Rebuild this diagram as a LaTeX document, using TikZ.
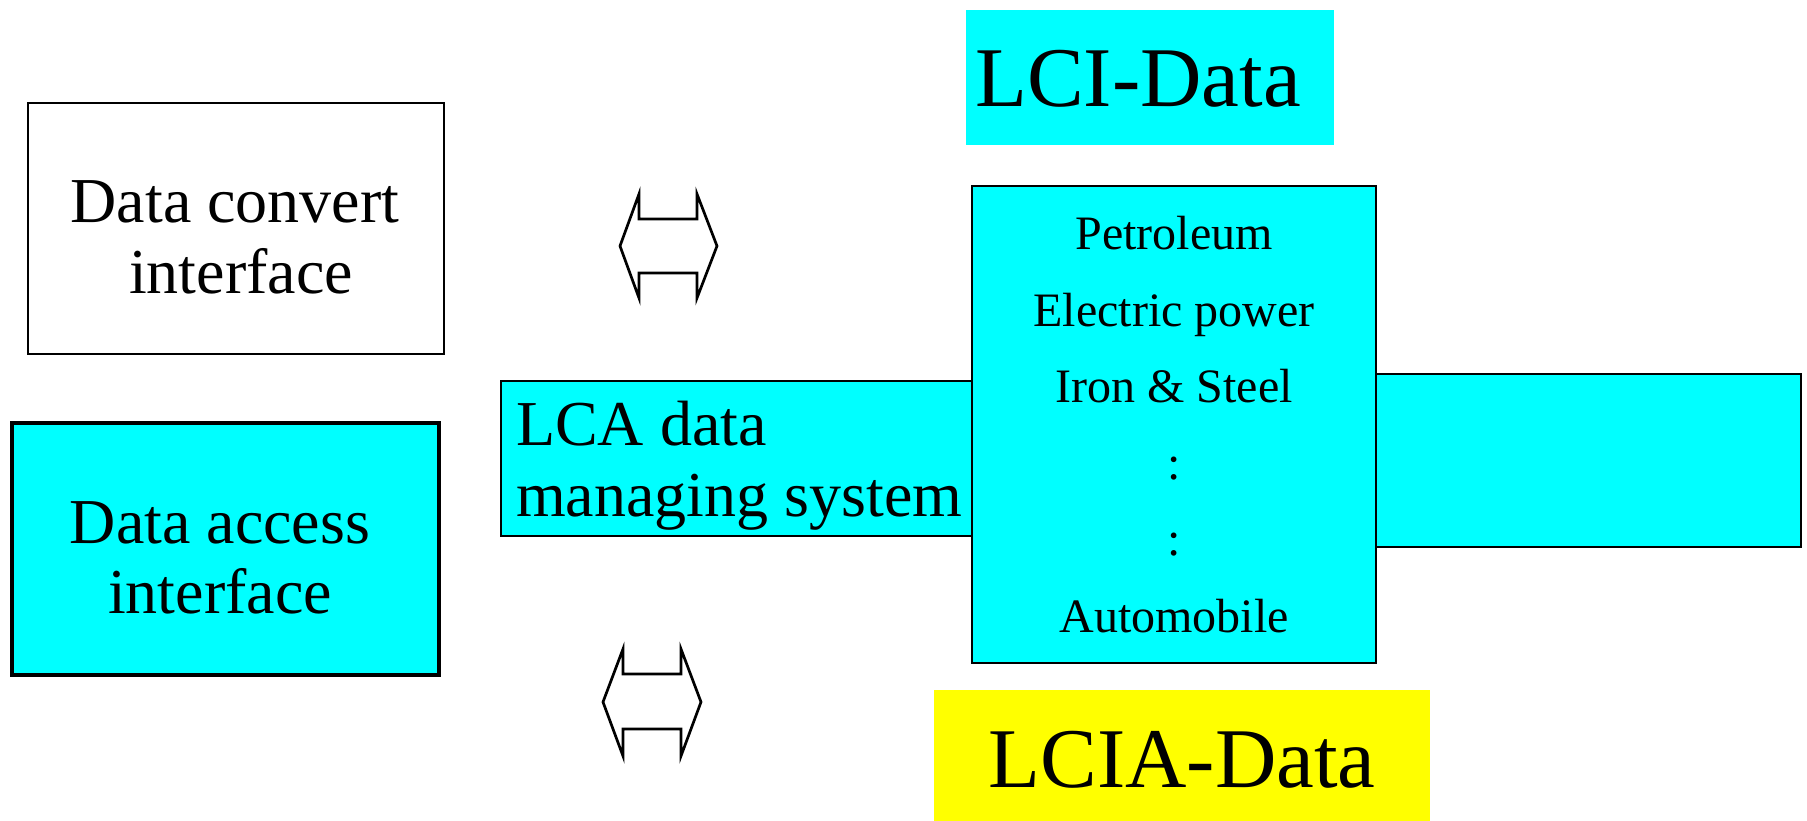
\documentclass[tikz,border=0pt]{standalone}
\usepackage{fontspec}
\setmainfont{Liberation Serif}
\definecolor{aqua}{HTML}{00FFFF}
\definecolor{yel}{HTML}{FFFF00}
\tikzset{
  boxnode/.style={rectangle, draw=black, line width=1.8pt, inner sep=0pt, outer sep=0pt, anchor=north west},
  thickbox/.style={boxnode, line width=4.5pt},
  plainfill/.style={rectangle, draw=none, inner sep=0pt, outer sep=0pt, anchor=north west},
  bigtxt/.style={inner sep=0pt, font=\fontsize{64}{70}\selectfont, anchor=base},
  hugetxt/.style={inner sep=0pt, font=\fontsize{85}{90}\selectfont, anchor=base},
  listtxt/.style={inner sep=0pt, font=\fontsize{48}{54}\selectfont, anchor=base},
  dblarrow/.style={draw=black, line width=2.7pt, line join=miter}
}
\begin{document}
\begin{tikzpicture}[x=1pt,y=-1pt]
\useasboundingbox[fill=white] (0,0) rectangle (1807,820);

% Left boxes
\node[boxnode, fill=white, minimum width=416, minimum height=251] (convert) at (28,103) {};
\node[bigtxt] (convertA) at (235,222) {Data convert};
\node[bigtxt] (convertB) at (241,293) {interface};

\node[thickbox, fill=aqua, minimum width=427, minimum height=252] (access) at (12,423) {};
\node[bigtxt] (accessA) at (220,543) {Data access};
\node[bigtxt] (accessB) at (220,613) {interface};

% LCA data managing system and right bar
\node[boxnode, fill=aqua, minimum width=472, minimum height=155] (lca) at (501,381) {};
\node[bigtxt, anchor=base west] (lcaA) at (516,445) {LCA data};
\node[bigtxt, anchor=base west] (lcaB) at (516,516) {managing system};

\node[boxnode, fill=aqua, minimum width=426, minimum height=173] (rightbar) at (1375,374) {};

% Central box
\node[boxnode, fill=aqua, minimum width=404, minimum height=477] (sectors) at (972,186) {};
\node[listtxt] (s1) at (1174,249) {Petroleum};
\node[listtxt] (s2) at (1174,326) {Electric power};
\node[listtxt] (s3) at (1174,402) {Iron \& Steel};
\node[listtxt] (s4) at (1174,479) {:};
\node[listtxt] (s5) at (1174,555) {:};
\node[listtxt] (s6) at (1174,632) {Automobile};

% LCI / LCIA labels
\node[plainfill, fill=aqua, minimum width=368, minimum height=135] (lci) at (966,10) {};
\node[hugetxt, anchor=base west] (lciT) at (975,106) {LCI-Data};
\node[plainfill, fill=yel, minimum width=496, minimum height=131] (lcia) at (934,690) {};
\node[hugetxt] (lciaT) at (1182,787) {LCIA-Data};

% Double arrows
\draw[dblarrow] (620,246) -- (639,194) -- (639,219) -- (697,219) -- (697,194) -- (717,246)
  -- (697,298) -- (697,273) -- (639,273) -- (639,298) -- cycle;
\draw[dblarrow] (603,702) -- (623,649) -- (623,674) -- (681,674) -- (681,649) -- (701,702)
  -- (681,756) -- (681,729) -- (623,729) -- (623,756) -- cycle;
\end{tikzpicture}
\end{document}
